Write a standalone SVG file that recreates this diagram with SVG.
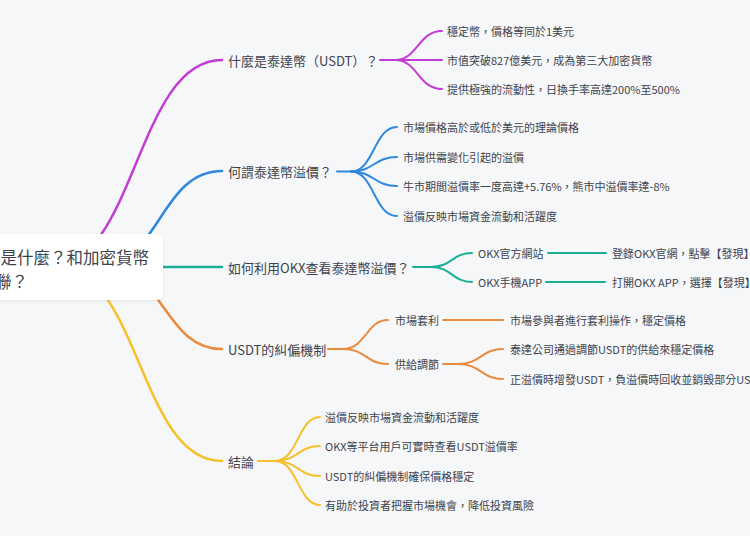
<svg xmlns="http://www.w3.org/2000/svg" width="750" height="536" viewBox="0 0 750 536">
<defs>
<filter id="sh" x="-10%" y="-20%" width="120%" height="140%">
<feDropShadow dx="0" dy="1" stdDeviation="1.5" flood-color="#000" flood-opacity="0.08"/>
</filter>
</defs>
<style>
text{font-family:"Noto Sans CJK TC","Noto Sans",sans-serif;fill:#3d434c;dominant-baseline:central}
.root{font-size:16.5px}
.l1{font-size:13px}
.l2{font-size:11px}
path{fill:none;stroke-linecap:round}
.w1{stroke-width:2.5}
.w2{stroke-width:2}
.pu{stroke:#c23cd3}
.bl{stroke:#2f88dc}
.te{stroke:#1bae95}
.or{stroke:#ea8a3d}
.ye{stroke:#f5c12d}
</style>
<rect width="750" height="536" fill="#f6f7f9"/>
<g id="connectors">
<path class="w1 pu" d="M50,267 C136,267 136,60 222,60"/>
<path class="w1 bl" d="M97,267 C159.5,267 159.5,171 222,171"/>
<path class="w1 te" d="M150,267 L222,267"/>
<path class="w1 or" d="M106,267 C164,267 164,349 222,349"/>
<path class="w1 ye" d="M57,267 C139.5,267 139.5,461 222,461"/>
<path class="w2 pu" d="M380,60 L395,60"/>
<path class="w2 pu" d="M395,60 C418,60 418,31 442,31"/>
<path class="w2 pu" d="M395,60 L442,60"/>
<path class="w2 pu" d="M395,60 C418,60 418,89 442,89"/>
<path class="w2 bl" d="M337,171.5 L351,171.5"/>
<path class="w2 bl" d="M351,171.5 C374,171.5 374,127 397,127"/>
<path class="w2 bl" d="M351,171.5 C374,171.5 374,157 397,157"/>
<path class="w2 bl" d="M351,171.5 C374,171.5 374,186 397,186"/>
<path class="w2 bl" d="M351,171.5 C374,171.5 374,216 397,216"/>
<path class="w2 te" d="M413,267 L431,267"/>
<path class="w2 te" d="M431,267 C452,267 452,253 472,253"/>
<path class="w2 te" d="M431,267 C452,267 452,282 472,282"/>
<path class="w2 te" d="M548,253 L606,253"/>
<path class="w2 te" d="M546,282 L605,282"/>
<path class="w2 or" d="M328,349 L343,349"/>
<path class="w2 or" d="M343,349 C366,349 366,320 388,320"/>
<path class="w2 or" d="M343,349 C366,349 366,364 388,364"/>
<path class="w2 or" d="M443,320 L503,320"/>
<path class="w2 or" d="M443,364 L458,364"/>
<path class="w2 or" d="M458,364 C481,364 481,349 503,349"/>
<path class="w2 or" d="M458,364 C481,364 481,379 503,379"/>
<path class="w2 ye" d="M258,461 L275,461"/>
<path class="w2 ye" d="M275,461 C298,461 298,417 320,417"/>
<path class="w2 ye" d="M275,461 C298,461 298,446 320,446"/>
<path class="w2 ye" d="M275,461 C298,461 298,476 320,476"/>
<path class="w2 ye" d="M275,461 C298,461 298,505 320,505"/>
</g>
<g id="root">
<rect x="-20" y="234" width="183" height="66" rx="6" fill="#ffffff" filter="url(#sh)"/>
<text class="root" x="0.5" y="257">是什麼？和加密貨幣</text>
<text class="root" x="-5" y="281">聯？</text>
</g>
<g id="n-usdt">
<text class="l1" x="228" y="60">什麼是泰達幣（USDT）？</text>
</g>
<g id="n-usdt-1"><text class="l2" x="447" y="31">穩定幣，價格等同於1美元</text></g>
<g id="n-usdt-2"><text class="l2" x="447" y="60">市值突破827億美元，成為第三大加密貨幣</text></g>
<g id="n-usdt-3"><text class="l2" x="447" y="89">提供極強的流動性，日換手率高達200%至500%</text></g>
<g id="n-premium">
<text class="l1" x="228" y="171.5">何謂泰達幣溢價？</text>
</g>
<g id="n-premium-1"><text class="l2" x="403" y="127">市場價格高於或低於美元的理論價格</text></g>
<g id="n-premium-2"><text class="l2" x="403" y="157">市場供需變化引起的溢價</text></g>
<g id="n-premium-3"><text class="l2" x="403" y="186">牛市期間溢價率一度高達+5.76%，熊市中溢價率達-8%</text></g>
<g id="n-premium-4"><text class="l2" x="403" y="216">溢價反映市場資金流動和活躍度</text></g>
<g id="n-okx">
<text class="l1" x="228" y="267">如何利用OKX查看泰達幣溢價？</text>
</g>
<g id="n-okx-web"><text class="l2" x="478" y="253">OKX官方網站</text></g>
<g id="n-okx-web-1"><text class="l2" x="612" y="253">登錄OKX官網，點擊【發現】</text></g>
<g id="n-okx-app"><text class="l2" x="478" y="282">OKX手機APP</text></g>
<g id="n-okx-app-1"><text class="l2" x="612" y="282">打開OKX APP，選擇【發現】</text></g>
<g id="n-mech">
<text class="l1" x="228" y="349">USDT的糾偏機制</text>
</g>
<g id="n-arb"><text class="l2" x="395" y="320">市場套利</text></g>
<g id="n-arb-1"><text class="l2" x="510" y="320">市場參與者進行套利操作，穩定價格</text></g>
<g id="n-supply"><text class="l2" x="395" y="364">供給調節</text></g>
<g id="n-supply-1"><text class="l2" x="510" y="349">泰達公司通過調節USDT的供給來穩定價格</text></g>
<g id="n-supply-2"><text class="l2" x="510" y="379">正溢價時增發USDT，負溢價時回收並銷毀部分US</text></g>
<g id="n-concl">
<text class="l1" x="228" y="461">結論</text>
</g>
<g id="n-concl-1"><text class="l2" x="325" y="417">溢價反映市場資金流動和活躍度</text></g>
<g id="n-concl-2"><text class="l2" x="325" y="446">OKX等平台用戶可實時查看USDT溢價率</text></g>
<g id="n-concl-3"><text class="l2" x="325" y="476">USDT的糾偏機制確保價格穩定</text></g>
<g id="n-concl-4"><text class="l2" x="325" y="505">有助於投資者把握市場機會，降低投資風險</text></g>
</svg>
